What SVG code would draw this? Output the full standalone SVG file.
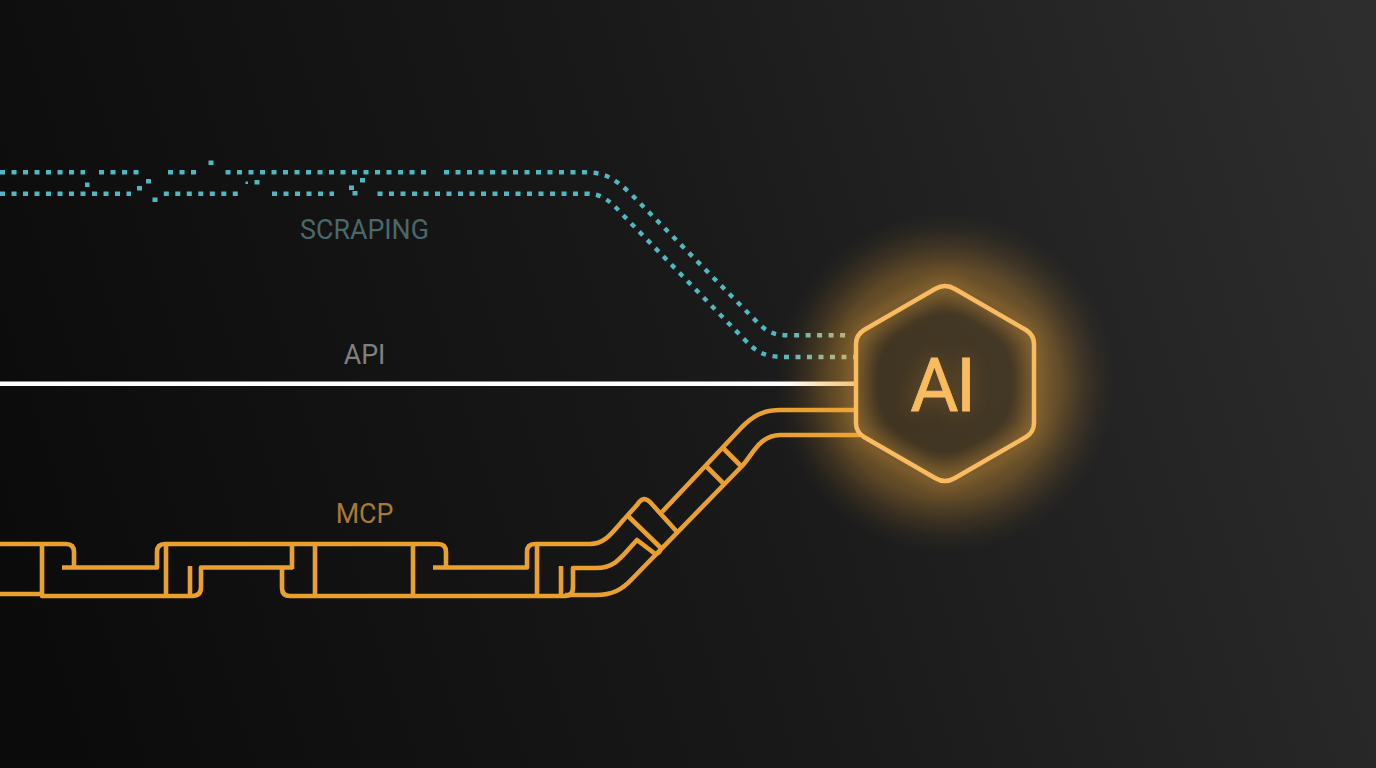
<svg xmlns="http://www.w3.org/2000/svg" width="1376" height="768" viewBox="0 0 1376 768">
<defs>
<linearGradient id="bg" gradientUnits="userSpaceOnUse" x1="0" y1="560" x2="1376" y2="120">
<stop offset="0" stop-color="#0b0b0b"/><stop offset="0.5" stop-color="#191919"/><stop offset="1" stop-color="#2d2d2d"/>
</linearGradient>
<linearGradient id="dotFade" gradientUnits="userSpaceOnUse" x1="780" y1="0" x2="856" y2="0">
<stop offset="0" stop-color="#4fb8c0"/><stop offset="1" stop-color="#a4bd9c"/>
</linearGradient>
<linearGradient id="apiFade" gradientUnits="userSpaceOnUse" x1="790" y1="0" x2="856" y2="0">
<stop offset="0" stop-color="#ffffff"/><stop offset="1" stop-color="#fbe0b0"/>
</linearGradient>
<radialGradient id="halo" gradientUnits="userSpaceOnUse" cx="945" cy="383" r="170">
<stop offset="0" stop-color="#f2a93b" stop-opacity="0.17"/>
<stop offset="0.4" stop-color="#f2a93b" stop-opacity="0.16"/>
<stop offset="0.56" stop-color="#f2a93b" stop-opacity="0.36"/>
<stop offset="0.68" stop-color="#f2a93b" stop-opacity="0.3"/>
<stop offset="0.8" stop-color="#f2a93b" stop-opacity="0.15"/>
<stop offset="0.9" stop-color="#f2a93b" stop-opacity="0.05"/>
<stop offset="1" stop-color="#f2a93b" stop-opacity="0"/>
</radialGradient>
<filter id="glowNear" x="-40%" y="-40%" width="180%" height="180%"><feGaussianBlur stdDeviation="10"/></filter>
<filter id="glowText" x="-60%" y="-60%" width="220%" height="220%"><feGaussianBlur stdDeviation="10"/></filter>
<path id="hex" d="M935 289 Q945 283 955 289 L1026 330 Q1034 335 1034 344 V423 Q1034 432 1026 437 L955 478 Q945 484 935 478 L864 437 Q856 432 856 423 V344 Q856 335 864 330 Z"/>
</defs>
<style>
.lbl{font-family:Roboto,"Liberation Sans",sans-serif;text-anchor:middle}
.dots{fill:none;stroke:#4fb8c0;stroke-width:4.400;stroke-dasharray:5 6.500}
.fade{stroke:url(#dotFade)}
.dot{fill:#4fb8c0}
.pipe{fill:none;stroke:#e9a02f;stroke-width:4.600;stroke-linejoin:round;stroke-linecap:butt}
</style>
<rect width="1376" height="768" fill="url(#bg)"/>
<g id="connectors">
<g id="scraping-connector">
<path class="dots" d="M0 172.300 H85"/>
<path class="dots" d="M99 172.300 H140"/>
<path class="dots" d="M168 172.300 H198"/>
<path class="dots" d="M225.500 172.300 H428"/>
<path class="dots fade" d="M444 172.300 H585 C606 172.300 616 180 630 193 L757 322 C768 333 775 335.300 790 335.300 H850"/>
<path class="dots" d="M0 193.700 H131"/>
<path class="dots" d="M163.800 193.700 H238"/>
<path class="dots" d="M272 193.700 H334"/>
<path class="dots fade" d="M377.500 193.700 H587 C602 193.700 610 201 622 214 L744 339 C756 352 765 357 784 357 H855"/>
<rect class="dot" x="208.500" y="160.500" width="5" height="4.500"/>
<rect class="dot" x="85" y="182.500" width="4.500" height="4.500"/>
<rect class="dot" x="146" y="179" width="5" height="4.500"/>
<rect class="dot" x="137" y="186" width="5" height="4.500"/>
<rect class="dot" x="152.500" y="197.500" width="5" height="4.500"/>
<rect class="dot" x="245.500" y="181.500" width="2.500" height="2.500"/>
<rect class="dot" x="254.500" y="180" width="5" height="4.500"/>
<rect class="dot" x="360" y="178" width="5" height="4.500"/>
<rect class="dot" x="349" y="185.500" width="5" height="4.500"/>
<rect class="dot" x="352.500" y="191" width="5" height="4.500"/>
</g>
<path id="api-connector" d="M0 383.800 H856" fill="none" stroke="url(#apiFade)" stroke-width="4.500"/>
<g id="mcp-connector" class="pipe">
<path d="M0 544 H66 Q74 544 74 552 V567.500"/>
<path d="M62 567.500 H157 V552 Q157 544 165 544 H438 Q446 544 446 552 V567.500"/>
<path d="M433 567.500 H527 V552 Q527 544 535 544 H590 C606 544 612 532 627 516 L637 505 Q643 495 650 502 L678 533"/>
<path d="M0 594 H42 M42 544 V596 H192 Q201 596 201 587 V567.500 H293"/>
<path d="M166 544 V596 M190 566 V595 M292 544 V569"/>
<path d="M282 568 V588 Q282 596 290 596 H565 Q573 596 573 587 V568 H596 C616 568 622 556 637 540 L654 553 Q658 555 661 549"/>
<path d="M315 544 V596 M413 544 V596 M537 544 V596 M561 566 V596"/>
<path d="M565 595 H596 C612 595 622 590 633 578 L743 465 C752 455 760 435 780 435 H860"/>
<path d="M662 512 L742 427 C752 417 762 410 780 410 H856"/>
<path d="M627 515 L661 548 M707 467 L723 483 M723 448 L742 467"/>
</g>
</g>
<g id="scraping-label"><text class="lbl" x="364.500" y="239" font-size="26.800" fill="#4a686c">SCRAPING</text></g>
<g id="api-label"><text class="lbl" x="364.500" y="364" font-size="26.800" fill="#808080">API</text></g>
<g id="mcp-label"><text class="lbl" x="364.500" y="523" font-size="26.800" fill="#a87a32">MCP</text></g>
<g id="ai-node">
<circle cx="945" cy="383" r="170" fill="url(#halo)"/>
<use href="#hex" fill="none" stroke="#f2a93b" stroke-width="10" stroke-opacity="0.4" filter="url(#glowNear)"/>
<text class="lbl" x="942" y="411" font-size="74" fill="#f2a93b" opacity="0.3" filter="url(#glowText)">AI</text>
<use href="#hex" fill="none" stroke="#f9bb60" stroke-width="4.500"/>
<text class="lbl" x="942" y="411" font-size="74" letter-spacing="-2.500" fill="#f9bb60" stroke="#f9bb60" stroke-width="0.800">AI</text>
</g>
</svg>
